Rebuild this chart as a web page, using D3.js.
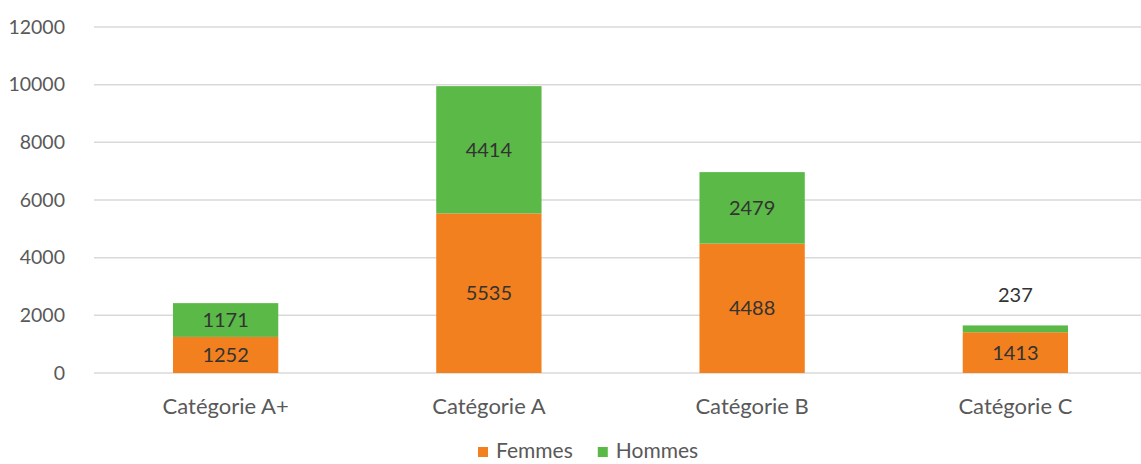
<!DOCTYPE html>
<html>
<head>
<meta charset="utf-8">
<script src="https://cdn.jsdelivr.net/npm/d3@7"></script>
<style>
  body { margin: 0; background: #fff; }
  svg { font-family: Lato, "Open Sans", sans-serif; }
</style>
</head>
<body>
<div id="chart"></div>
<script>
// data
let categories = ["Catégorie A+", "Catégorie A", "Catégorie B", "Catégorie C"];
let femmes = [1252, 5535, 4488, 1413];
let hommes = [1171, 4414, 2479, 237];
let series_names = ["Femmes", "Hommes"];
let y_ticks = [0, 2000, 4000, 6000, 8000, 10000, 12000];

document.addEventListener("DOMContentLoaded", function () {

    let dims = { width: 1141, height: 464 };
    let plot = { left: 94, right: 1147, top: 27, bottom: 373 };
    let colors = { Femmes: "#F2801F", Hommes: "#5BB947" };

    let svg = d3.select("#chart")
        .append("svg")
            .attr("width", dims.width)
            .attr("height", dims.height);

    let x = d3.scaleBand()
        .domain(categories)
        .range([plot.left, plot.right])
        .paddingInner(0.6)
        .paddingOuter(0.3);

    let y = d3.scaleLinear()
        .domain([0, 12000])
        .range([plot.bottom, plot.top]);

    // gridlines
    svg.append("g")
        .selectAll("line")
        .data(y_ticks)
        .enter()
        .append("line")
            .attr("x1", plot.left)
            .attr("x2", plot.right)
            .attr("y1", d => y(d))
            .attr("y2", d => y(d))
            .style("stroke", "#d9d9d9")
            .style("stroke-width", 1.5);

    // y axis labels
    svg.append("g")
        .attr("transform", "translate(" + (plot.left - 26) + ",0)")
        .call(d3.axisLeft(y).tickValues(y_ticks).tickSize(0).tickFormat(d3.format("d")))
        .call(g => g.select(".domain").remove())
        .selectAll("text")
            .style("font-family", "Lato, sans-serif")
            .style("font-size", "19.5px")
            .style("fill", "#595959");

    // x axis labels
    svg.append("g")
        .attr("transform", "translate(0," + (plot.bottom + 22) + ")")
        .call(d3.axisBottom(x).tickSize(0))
        .call(g => g.select(".domain").remove())
        .selectAll("text")
            .style("font-family", "Lato, sans-serif")
            .style("font-size", "22px")
            .style("fill", "#595959");

    let rows = categories.map((c, i) => ({ category: c, Femmes: femmes[i], Hommes: hommes[i] }));
    let stacked = d3.stack().keys(series_names)(rows);

    let layers = svg.selectAll(".layer")
        .data(stacked)
        .enter()
        .append("g")
            .attr("class", "layer")
            .style("fill", d => colors[d.key]);

    layers.selectAll("rect")
        .data(d => d)
        .enter()
        .append("rect")
            .attr("x", d => x(d.data.category))
            .attr("y", d => y(d[1]))
            .attr("width", x.bandwidth())
            .attr("height", d => y(d[0]) - y(d[1]));

    // value labels
    layers.selectAll("text")
        .data(d => d.map(p => ({ p: p, key: d.key })))
        .enter()
        .append("text")
            .attr("x", d => x(d.p.data.category) + x.bandwidth() / 2)
            .attr("y", function (d) {
                let h = y(d.p[0]) - y(d.p[1]);
                if (h < 22) return y(d.p[1]) - 30; // too small, put above
                return (y(d.p[0]) + y(d.p[1])) / 2;
            })
            .attr("dy", "0.35em")
            .attr("text-anchor", "middle")
            .style("font-size", "20px")
            .style("fill", "#333")
            .text(d => d.p.data[d.key]);

    // legend
    let legend = svg.append("g")
        .attr("transform", "translate(478,451)");
    let lx = 0;
    series_names.forEach(function (name) {
        legend.append("rect")
            .attr("x", lx)
            .attr("y", -4)
            .attr("width", 10)
            .attr("height", 10)
            .style("fill", colors[name]);
        let t = legend.append("text")
            .attr("x", lx + 18)
            .attr("dy", "0.35em")
            .style("font-size", "21px")
            .style("fill", "#595959")
            .text(name);
        lx += 18 + t.node().getComputedTextLength() + 25;
    });
});
</script>
</body>
</html>
